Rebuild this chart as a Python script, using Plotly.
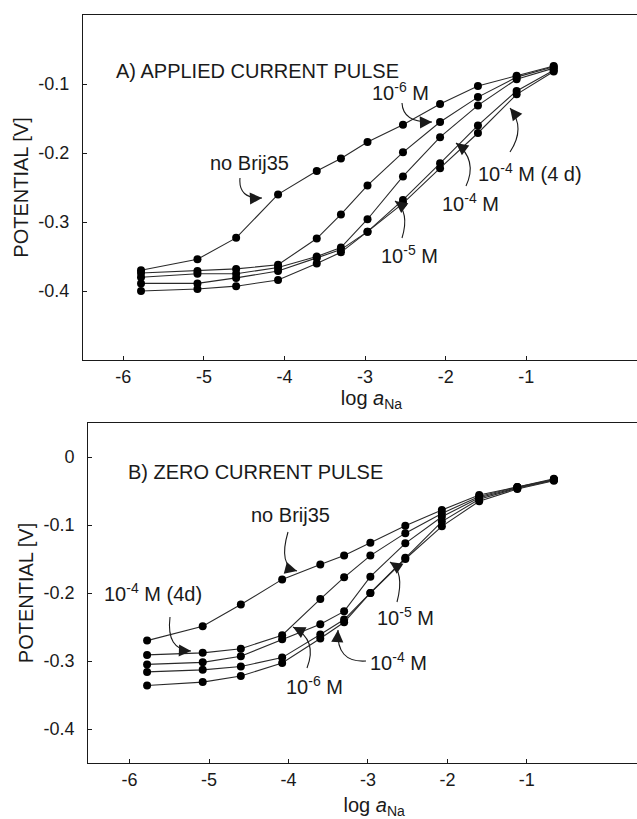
import plotly.graph_objects as go

# ---------------- data ----------------
log_a_na = [-5.78, -5.08, -4.60, -4.08, -3.60, -3.30, -2.97, -2.53, -2.07, -1.60, -1.12, -0.66]

# A) applied current pulse
a_no_brij = [-0.370, -0.354, -0.323, -0.260, -0.226, -0.208, -0.184, -0.159, -0.129, -0.103, -0.088, -0.074]
a_1e6 = [-0.374, -0.371, -0.368, -0.362, -0.324, -0.289, -0.247, -0.199, -0.155, -0.119, -0.090, -0.075]
a_1e4_4d = [-0.380, -0.375, -0.375, -0.366, -0.350, -0.337, -0.296, -0.234, -0.177, -0.131, -0.093, -0.077]
a_1e5 = [-0.389, -0.389, -0.381, -0.371, -0.352, -0.340, -0.314, -0.268, -0.215, -0.160, -0.110, -0.080]
a_1e4 = [-0.400, -0.397, -0.393, -0.384, -0.360, -0.344, -0.314, -0.273, -0.222, -0.171, -0.115, -0.082]

# B) zero current pulse
b_no_brij = [-0.270, -0.249, -0.217, -0.180, -0.158, -0.145, -0.126, -0.101, -0.078, -0.056, -0.044, -0.032]
b_1e4_4d = [-0.291, -0.288, -0.282, -0.262, -0.209, -0.177, -0.145, -0.112, -0.083, -0.058, -0.044, -0.033]
b_1e6 = [-0.305, -0.302, -0.293, -0.268, -0.246, -0.227, -0.176, -0.127, -0.088, -0.060, -0.045, -0.033]
b_1e5 = [-0.316, -0.313, -0.308, -0.295, -0.261, -0.239, -0.200, -0.148, -0.095, -0.062, -0.046, -0.034]
b_1e4 = [-0.336, -0.331, -0.322, -0.303, -0.267, -0.243, -0.200, -0.150, -0.102, -0.065, -0.047, -0.035]

x_tick_vals = [-6, -5, -4, -3, -2, -1]
x_tick_text = ["-6", "-5", "-4", "-3", "-2", "-1"]
a_y_tick_vals = [-0.4, -0.3, -0.2, -0.1]
a_y_tick_text = ["-0.4", "-0.3", "-0.2", "-0.1"]
b_y_tick_vals = [-0.4, -0.3, -0.2, -0.1, 0.0]
b_y_tick_text = ["-0.4", "-0.3", "-0.2", "-0.1", "0"]

# ---------------- layout geometry ----------------
# The figure is a little wider than the 637px window so the frame runs off the
# right edge (no right border), as in the reference.
W, H = 660, 819
FONT = "Liberation Sans, Arial, sans-serif"
INK = "#1a1a1a"

panels = {
    "A": dict(xaxis="x", yaxis="y", left=83, top=15, bottom=360,
              xr=[-6.50, -6.50 + (W - 83) / 80.6], yr=[-0.50, 0.0]),
    "B": dict(xaxis="x2", yaxis="y2", left=88.3, top=423, bottom=763,
              xr=[-6.52, -6.52 + (W - 88.3) / 79.45], yr=[-0.45, 0.05]),
}


def px2data(p, px, py):
    P = panels[p]
    x = P["xr"][0] + (px - P["left"]) / (W - P["left"]) * (P["xr"][1] - P["xr"][0])
    y = P["yr"][1] - (py - P["top"]) / (P["bottom"] - P["top"]) * (P["yr"][1] - P["yr"][0])
    return x, y


fig = go.Figure()

series_a = [a_no_brij, a_1e6, a_1e4_4d, a_1e5, a_1e4]
names_a = ["no Brij35", "10-6 M", "10-4 M (4 d)", "10-5 M", "10-4 M"]
series_b = [b_no_brij, b_1e4_4d, b_1e6, b_1e5, b_1e4]
names_b = ["no Brij35", "10-4 M (4d)", "10-6 M", "10-5 M", "10-4 M"]

for ys, nm in zip(series_a, names_a):
    fig.add_trace(go.Scatter(x=log_a_na, y=ys, name=nm, mode="lines+markers",
                             line=dict(color="#2a2a2a", width=1.1),
                             marker=dict(color="black", size=8),
                             xaxis="x", yaxis="y", showlegend=False))
for ys, nm in zip(series_b, names_b):
    fig.add_trace(go.Scatter(x=log_a_na, y=ys, name=nm, mode="lines+markers",
                             line=dict(color="#2a2a2a", width=1.1),
                             marker=dict(color="black", size=8),
                             xaxis="x2", yaxis="y2", showlegend=False))

annotations = []
shapes = []


def label(p, text, px, py, xanchor="center"):
    x, y = px2data(p, px, py)
    P = panels[p]
    annotations.append(dict(x=x, y=y, xref=P["xaxis"], yref=P["yaxis"], text=text,
                            showarrow=False, xanchor=xanchor, yanchor="middle",
                            font=dict(family=FONT, size=20, color=INK)))


def curved_arrow(p, start, ctrl, tip):
    P = panels[p]
    s = px2data(p, *start)
    c = px2data(p, *ctrl)
    t = px2data(p, *tip)
    shapes.append(dict(type="path", xref=P["xaxis"], yref=P["yaxis"],
                       path=f"M {s[0]},{s[1]} Q {c[0]},{c[1]} {t[0]},{t[1]}",
                       line=dict(color=INK, width=1.1)))
    dx, dy = tip[0] - ctrl[0], tip[1] - ctrl[1]
    n = (dx * dx + dy * dy) ** 0.5
    ax, ay = -dx / n * 6, -dy / n * 6
    annotations.append(dict(x=t[0], y=t[1], xref=P["xaxis"], yref=P["yaxis"], text="",
                            showarrow=True, arrowhead=2, arrowsize=2.2, arrowwidth=1.1,
                            arrowcolor=INK, ax=ax, ay=ay, standoff=0))


# panel A labels
label("A", "A) APPLIED CURRENT PULSE", 114, 71, xanchor="left")
label("A", "no Brij35", 249, 163)
curved_arrow("A", (240, 178), (238, 199), (262, 198))
label("A", "10<sup>-6</sup> M", 400, 91)
curved_arrow("A", (402, 103), (403, 123), (432, 122))
label("A", "10<sup>-4</sup> M (4 d)", 530, 172)
curved_arrow("A", (510, 152), (526, 128), (510, 108))
label("A", "10<sup>-4</sup> M", 470, 202)
curved_arrow("A", (466, 186), (478, 160), (456, 143))
label("A", "10<sup>-5</sup> M", 409, 254)
curved_arrow("A", (402, 238), (410, 212), (395, 201))

# panel B labels
label("B", "B) ZERO CURRENT PULSE", 126, 472, xanchor="left")
label("B", "no Brij35", 290, 515)
curved_arrow("B", (288, 532), (278, 566), (297, 571))
label("B", "10<sup>-4</sup> M (4d)", 153, 592)
curved_arrow("B", (170, 617), (166, 650), (191, 651))
label("B", "10<sup>-6</sup> M", 314, 685)
curved_arrow("B", (307, 668), (318, 640), (293, 627))
label("B", "10<sup>-4</sup> M", 398, 661)
curved_arrow("B", (366, 661), (336, 663), (338, 630))
label("B", "10<sup>-5</sup> M", 405, 616)
curved_arrow("B", (397, 602), (405, 572), (390, 562))

axis_common = dict(showline=True, linecolor=INK, linewidth=1.3, ticks="inside",
                   ticklen=4, tickcolor=INK, showgrid=False, zeroline=False,
                   tickfont=dict(family=FONT, size=18, color=INK), automargin=False)


def x_title(standoff):
    return dict(text="log <i>a</i><sub>Na</sub>", font=dict(family=FONT, size=20, color=INK),
                standoff=standoff)


y_title = dict(text="POTENTIAL [V]", font=dict(family=FONT, size=20, color=INK), standoff=4)

fig.update_layout(
    width=W, height=H,
    margin=dict(l=0, r=0, t=0, b=0),
    paper_bgcolor="white", plot_bgcolor="white",
    showlegend=False,
    xaxis=dict(domain=[panels["A"]["left"] / W, 1], range=panels["A"]["xr"],
               tickvals=x_tick_vals, ticktext=x_tick_text, mirror=True,
               anchor="y", title=x_title(4), **axis_common),
    yaxis=dict(domain=[1 - panels["A"]["bottom"] / H, 1 - panels["A"]["top"] / H],
               range=panels["A"]["yr"], tickvals=a_y_tick_vals, ticktext=a_y_tick_text,
               anchor="x", title=y_title, ticklabelstandoff=9, **axis_common),
    xaxis2=dict(domain=[panels["B"]["left"] / W, 1], range=panels["B"]["xr"],
                tickvals=x_tick_vals, ticktext=x_tick_text, mirror=True,
                anchor="y2", title=x_title(9), **axis_common),
    yaxis2=dict(domain=[1 - panels["B"]["bottom"] / H, 1 - panels["B"]["top"] / H],
                range=panels["B"]["yr"], tickvals=b_y_tick_vals, ticktext=b_y_tick_text,
                anchor="x2", title=y_title, ticklabelstandoff=9, **axis_common),
    annotations=annotations,
    shapes=shapes,
)

fig.write_html("out.html", config={"displayModeBar": False},
               post_script="document.body.style.margin='0';document.body.style.overflow='hidden';")
